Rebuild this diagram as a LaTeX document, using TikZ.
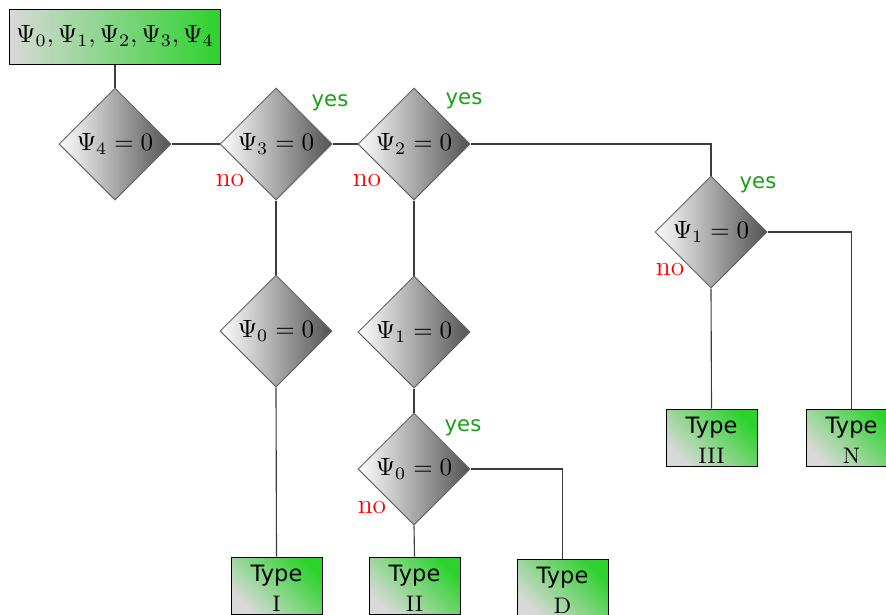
\documentclass[tikz,border=0pt]{standalone}
\usepackage{fontspec}
\newfontfamily\djv{DejaVu Sans}
\usetikzlibrary{shapes.geometric}
\definecolor{mygreen}{RGB}{45,210,45}
\definecolor{yesgreen}{RGB}{25,160,25}
\definecolor{linegray}{RGB}{60,60,60}
\newcommand{\typetext}[1]{\raisebox{-4.4pt}[0pt][0pt]{\begin{tabular}{@{}c@{}}{\djv Type}\\ #1\end{tabular}}}
\tikzset{
  dec/.style={diamond, draw=gray!80!black, line width=0.4pt, inner sep=0pt, minimum width=44.8pt, minimum height=44.8pt,
    left color=white, right color=gray!65!black, font=\fontsize{9.8}{11}\selectfont},
  topbox/.style={rectangle, draw=black, line width=0.4pt, minimum width=84pt, minimum height=22pt, inner sep=0pt,
    left color=gray!30, right color=mygreen, font=\fontsize{9.8}{11}\selectfont},
  typebox/.style={rectangle, draw=black, line width=0.4pt, minimum width=36.4pt, minimum height=22.8pt, inner sep=0pt,
    left color=gray!30, right color=mygreen, shading angle=135, font=\fontsize{9}{12}\selectfont},
  conn/.style={draw=linegray, line width=0.45pt},
  yeslab/.style={text=yesgreen, font=\djv\fontsize{8.5}{10}\selectfont, inner sep=0pt},
  nolab/.style={text=red, font=\fontsize{11}{12}\selectfont, inner sep=0pt},
}
\begin{document}
\begin{tikzpicture}[x=0.4pt,y=-0.4pt]
\useasboundingbox (0,0) rectangle (886,614);
\node[topbox] (top) at (115,36.5) {$\Psi_0,\Psi_1,\Psi_2,\Psi_3,\Psi_4$};
\node[dec] (d4) at (115,144) {$\Psi_4=0$};
\node[dec] (d3) at (276,144) {$\Psi_3=0$};
\node[dec] (d2) at (414,144) {$\Psi_2=0$};
\node[dec] (d1r) at (711,232) {$\Psi_1=0$};
\node[dec] (d0l) at (276,331) {$\Psi_0=0$};
\node[dec] (d1m) at (414,332) {$\Psi_1=0$};
\node[dec] (d0m) at (414,469) {$\Psi_0=0$};
\node[typebox] (tI) at (276.5,585.5) {\typetext{I}};
\node[typebox] (tII) at (414.5,585.5) {\typetext{II}};
\node[typebox] (tD) at (562.5,587.5) {\typetext{D}};
\node[typebox] (tIII) at (711.5,437.5) {\typetext{III}};
\node[typebox] (tN) at (851.5,437.5) {\typetext{N}};
\draw[conn] (top.south) -- (d4.north);
\draw[conn] (d4.east) -- (d3.west);
\draw[conn] (d3.east) -- (d2.west);
\draw[conn] (d3.south) -- (d0l.north);
\draw[conn] (d0l.south) -- (tI.north);
\draw[conn] (d2.south) -- (d1m.north);
\draw[conn] (d1m.south) -- (d0m.north);
\draw[conn] (d0m.south) -- (tII.north);
\draw[conn] (d0m.east) -| (tD.north);
\draw[conn] (d2.east) -| (d1r.north);
\draw[conn] (d1r.south) -- (tIII.north);
\draw[conn] (d1r.east) -| (tN.north);
\node[yeslab] (y3) at (330,103) {yes};
\node[nolab] (n3) at (230,181) {no};
\node[yeslab] (y2) at (464,101) {yes};
\node[nolab] (n2) at (367,180) {no};
\node[yeslab] (y1r) at (758,185) {yes};
\node[nolab] (n1r) at (670,269) {no};
\node[yeslab] (y0m) at (463,428) {yes};
\node[nolab] (n0m) at (372,507) {no};
\end{tikzpicture}
\end{document}
